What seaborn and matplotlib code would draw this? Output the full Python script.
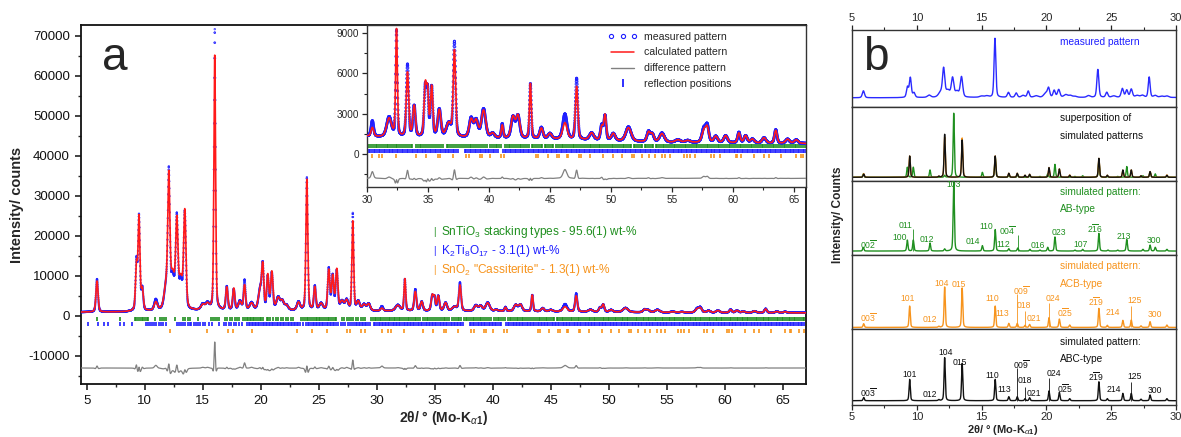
import numpy as np
import matplotlib
matplotlib.use("Agg")
import matplotlib.pyplot as plt
from matplotlib.lines import Line2D
from matplotlib.legend_handler import HandlerLine2D
from matplotlib.ticker import MultipleLocator
import seaborn as sns

# ---------------------------------------------------------------- data
# background of the powder pattern (2theta in degrees, counts)
BG_POS = [4.5, 8.0, 11.0, 15.0, 22.0, 30.0, 38.0, 46.0, 54.0, 60.0, 67.0]
BG_CNT = [950, 1000, 1200, 1350, 1350, 1250, 1200, 1100, 880, 830, 780]

# Rietveld refinement: peak positions, measured / calculated maxima (counts), FWHM
PEAK_POS = [5.88, 9.28, 9.50, 9.78, 10.95, 11.85, 12.07, 12.40, 12.76, 13.10,
            13.45, 15.00, 15.40, 16.03, 17.07, 17.67, 18.20, 18.60, 19.20, 19.95,
            20.17, 20.60, 20.95, 21.50, 21.85, 22.20, 23.25, 23.97, 24.66, 25.20,
            25.86, 26.20, 26.55, 27.00, 27.40, 27.93, 28.40, 28.90, 29.30,
            30.44, 31.81, 32.42, 33.32, 33.87, 34.78, 34.97, 35.30, 35.93, 36.70,
            37.17, 38.54, 38.95, 39.56, 40.30, 41.09, 41.97, 42.38, 43.40, 44.30,
            45.00, 46.23, 47.19, 48.42, 49.25, 49.52, 50.20, 51.44, 53.09, 53.40,
            54.19, 55.50, 56.30, 57.62, 57.90, 58.60, 59.41, 60.50, 61.05, 61.60,
            62.56, 63.52, 64.49, 65.20]
PEAK_MEAS = [9200, 13300, 24500, 6500, 3900, 7000, 33000, 9000, 23300, 8000,
             25200, 2800, 3000, 71500, 7200, 6500, 3600, 8800, 3200, 6500,
             11500, 9500, 10500, 4500, 3500, 2600, 3400, 34500, 7300, 3000,
             11700, 9800, 11000, 3500, 3800, 25500, 3500, 2800, 3000,
             2400, 2700, 9100, 6600, 3500, 4900, 4300, 4900, 3250, 2200,
             8250, 2600, 2450, 3300, 1500, 2200, 2700, 2800, 5200, 1950,
             1500, 2950, 5600, 1550, 2100, 2800, 1500, 2000, 1650, 1450,
             1550, 1050, 1000, 1850, 2050, 1300, 1350, 1600, 1350, 1100,
             1200, 1800, 1100, 1050]
PEAK_CALC = [8700, 12300, 24200, 6200, 3200, 6800, 31500, 9500, 22000, 8500,
             25400, 2600, 2800, 65000, 7000, 6700, 3400, 7500, 3000, 6300,
             11200, 9800, 10700, 4300, 3400, 2500, 3200, 34000, 7000, 2900,
             11200, 9600, 11300, 3400, 3600, 23500, 3400, 2700, 2900,
             1900, 2600, 9200, 6000, 3500, 5000, 4200, 4900, 3200, 2200,
             7600, 2500, 2400, 3200, 1500, 2100, 2700, 2800, 5200, 1900,
             1500, 2300, 5000, 1550, 2000, 2850, 1500, 1950, 1600, 1450,
             1500, 1050, 1000, 1700, 1900, 1300, 1350, 1550, 1350, 1100,
             1200, 1750, 1100, 1050]
PEAK_FWHM = [0.20, 0.18, 0.18, 0.20, 0.30, 0.40, 0.20, 0.40, 0.22, 0.35,
             0.22, 0.35, 0.35, 0.16, 0.20, 0.20, 0.30, 0.19, 0.35, 0.35,
             0.20, 0.20, 0.22, 0.35, 0.30, 0.35, 0.30, 0.18, 0.20, 0.35,
             0.21, 0.21, 0.21, 0.35, 0.30, 0.17, 0.30, 0.35, 0.30,
             0.24, 0.45, 0.16, 0.22, 0.24, 0.22, 0.18, 0.22, 0.30, 0.45,
             0.22, 0.35, 0.35, 0.40, 0.35, 0.18, 0.35, 0.35, 0.17, 0.30,
             0.35, 0.40, 0.22, 0.40, 0.24, 0.22, 0.35, 0.50, 0.30, 0.30,
             0.45, 0.45, 0.45, 0.35, 0.30, 0.35, 0.35, 0.24, 0.30, 0.35,
             0.35, 0.24, 0.35, 0.35]

# reflection positions of the three phases (2theta)
GREEN_REFL = [5.86, 7.85, 9.12, 9.27, 9.44, 9.58, 9.73, 9.88, 10.04, 10.19, 10.31, 10.92,
              11.31, 11.47, 11.63, 11.81, 12.61, 13.32, 13.49, 13.71, 13.88, 14.62, 15.69,
              15.88, 16.05, 16.24, 16.41, 16.90, 17.09, 17.31, 17.54, 17.76, 17.93, 18.11,
              18.49, 18.63, 18.77, 18.90, 19.03, 19.17, 19.31, 19.44, 19.60, 19.74, 19.91,
              20.04, 20.19, 20.51, 20.66, 20.83, 21.01, 21.28, 21.49, 21.71, 21.90, 22.16,
              22.38, 22.61, 22.80, 23.49, 23.66, 23.80, 23.96, 24.09, 24.26, 24.41, 24.55,
              24.72, 24.86, 25.01, 25.14, 25.31, 25.46, 25.59, 25.76, 25.90, 26.06, 26.19,
              26.36, 26.51, 27.02, 27.19, 27.41, 27.60, 27.79, 27.98, 28.20, 28.39, 28.61,
              28.80, 29.02, 29.48, 29.63, 29.81, 29.94, 30.11, 30.27, 30.40, 30.56, 30.71,
              30.84, 31.02, 31.16, 31.29, 31.47, 31.61, 31.74, 31.92, 32.04, 32.21, 32.36,
              32.49, 32.66, 32.80, 32.97, 33.09, 33.26, 33.41, 33.57, 33.70, 34.02, 34.16,
              34.31, 34.44, 34.62, 34.79, 34.93, 35.11, 35.24, 35.41, 35.58, 35.76, 35.89,
              36.06, 36.21, 36.52, 36.67, 36.79, 36.96, 37.11, 37.27, 37.49, 37.66, 37.79,
              37.96, 38.09, 38.26, 38.41, 38.54, 38.71, 38.86, 39.01, 39.19, 39.36, 39.49,
              39.66, 39.81, 40.12, 40.24, 40.41, 40.56, 40.69, 40.86, 41.02, 41.29, 41.46,
              41.61, 41.76, 41.89, 42.06, 42.19, 42.36, 42.51, 42.64, 42.81, 42.99, 43.16,
              43.31, 43.49, 43.64, 43.81, 43.94, 44.11, 44.26, 44.39, 44.56, 44.71, 44.84,
              45.01, 45.16, 45.29, 45.51, 45.66, 45.79, 45.96, 46.09, 46.26, 46.41, 46.54,
              46.71, 46.86, 46.99, 47.16, 47.31, 47.44, 47.61, 47.79, 47.96, 48.09, 48.26,
              48.39, 48.56, 48.71, 48.84, 49.01, 49.14, 49.31, 49.46, 49.59, 49.76, 49.89,
              50.06, 50.21, 50.34, 50.51, 50.66, 50.79, 50.96, 51.11, 51.24, 51.41, 51.56,
              51.69, 51.86, 52.01, 52.14, 52.31, 52.46, 52.59, 52.76, 52.91, 53.04, 53.21,
              53.36, 53.49, 53.66, 53.81, 53.94, 54.11, 54.26, 54.39, 54.56, 54.71, 54.84,
              55.01, 55.16, 55.29, 55.46, 55.61, 55.74, 55.91, 56.06, 56.19, 56.36, 56.51,
              56.64, 56.81, 56.96, 57.09, 57.26, 57.41, 57.54, 57.71, 57.86, 57.99, 58.16,
              58.31, 58.44, 58.61, 58.76, 58.89, 59.06, 59.21, 59.34, 59.51, 59.66, 59.79,
              59.96, 60.11, 60.24, 60.41, 60.56, 60.69, 60.86, 61.01, 61.14, 61.31, 61.46,
              61.59, 61.76, 61.91, 62.04, 62.21, 62.36, 62.49, 62.66, 62.81, 62.94, 63.11,
              63.26, 63.39, 63.56, 63.71, 63.84, 64.01, 64.16, 64.29, 64.46, 64.61, 64.74,
              64.91, 65.06, 65.19, 65.36, 65.51, 65.64, 65.81, 65.96, 66.09, 66.26, 66.41,
              66.54, 66.71, 66.86]
BLUE_REFL = [5.10, 5.95, 6.50, 6.80, 7.90, 8.20, 8.90, 10.10, 10.26, 10.42, 10.60, 10.77,
             11.00, 11.21, 11.40, 11.60, 11.80, 12.80, 12.96, 13.12, 13.30, 13.48, 13.69,
             13.86, 14.02, 14.20, 14.41, 14.60, 14.80, 15.00, 15.22, 15.50, 15.81, 16.42,
             16.80, 17.00, 17.22, 17.45, 17.70, 17.90, 18.12, 18.40, 18.81, 18.94, 19.08,
             19.20, 19.35, 19.47, 19.61, 19.74, 19.88, 20.01, 20.15, 20.28, 20.42, 20.55,
             20.69, 20.82, 20.96, 21.09, 21.23, 21.36, 21.50, 21.63, 21.77, 21.90, 22.04,
             22.17, 22.31, 22.44, 22.58, 22.71, 22.85, 22.98, 23.12, 23.25, 23.39, 23.60,
             23.92, 24.05, 24.19, 24.32, 24.46, 24.59, 24.73, 24.86, 25.00, 25.13, 25.27,
             25.40, 25.54, 25.67, 25.81, 25.94, 26.08, 26.21, 26.35, 26.48, 26.62, 26.90,
             27.10, 27.30, 27.52, 27.70, 27.88, 28.03, 28.17, 28.30, 28.44, 28.57, 28.71,
             28.84, 28.98, 29.11, 29.25, 29.38, 29.74, 29.88, 30.01, 30.15, 30.28, 30.42,
             30.55, 30.69, 30.82, 30.96, 31.09, 31.23, 31.36, 31.50, 31.63, 31.77, 31.90,
             32.04, 32.17, 32.31, 32.44, 32.58, 32.71, 32.85, 32.98, 33.12, 33.25, 33.39,
             33.52, 33.66, 33.79, 33.93, 34.06, 34.20, 34.33, 34.47, 34.60, 34.74, 34.87,
             35.01, 35.14, 35.28, 35.41, 35.55, 35.68, 35.82, 35.95, 36.09, 36.22, 36.36,
             36.49, 36.63, 36.76, 36.90, 37.03, 37.17, 37.30, 37.44, 38.02, 38.15, 38.29,
             38.42, 38.56, 38.69, 38.83, 38.96, 39.10, 39.23, 39.37, 39.50, 39.64, 39.77,
             39.91, 40.04, 40.18, 40.31, 40.45, 40.58, 40.72, 41.16, 41.29, 41.43, 41.56,
             41.70, 41.83, 41.97, 42.10, 42.24, 42.37, 42.51, 42.64, 42.78, 42.91, 43.05,
             43.18, 43.32, 43.45, 43.59, 43.72, 43.86, 43.99, 44.13, 44.26, 44.40, 44.53,
             44.67, 44.80, 44.94, 45.07, 45.21, 45.34, 45.48, 45.61, 45.75, 45.88, 46.02,
             46.15, 46.29, 46.42, 46.56, 46.69, 46.83, 46.96, 47.10, 47.23, 47.37, 47.50,
             47.64, 47.77, 47.91, 48.04, 48.18, 48.31, 48.45, 48.58, 48.72, 48.85, 48.99,
             49.12, 49.26, 49.39, 49.53, 49.66, 49.80, 49.93, 50.07, 50.20, 50.34, 50.47,
             50.61, 50.74, 50.88, 51.01, 51.15, 51.28, 51.42, 51.55, 51.69, 51.82, 51.96,
             52.09, 52.23, 52.36, 52.50, 52.63, 52.77, 52.90, 53.04, 53.17, 53.31, 53.44,
             53.58, 53.71, 53.85, 53.98, 54.12, 54.25, 54.39, 54.52, 54.66, 54.79, 54.93,
             55.06, 55.20, 55.33, 55.47, 55.60, 55.74, 55.87, 56.01, 56.14, 56.28, 56.41,
             56.55, 56.68, 56.82, 56.95, 57.09, 57.22, 57.36, 57.49, 57.63, 57.76, 57.90,
             58.03, 58.17, 58.30, 58.44, 58.57, 58.71, 58.84, 58.98, 59.11, 59.25, 59.38,
             59.52, 59.65, 59.79, 59.92, 60.06, 60.19, 60.33, 60.46, 60.60, 60.73, 60.87,
             61.00, 61.14, 61.27, 61.41, 61.54, 61.68, 61.81, 61.95, 62.08, 62.22, 62.35,
             62.49, 62.62, 62.76, 62.89, 63.03, 63.16, 63.30, 63.43, 63.57, 63.70, 63.84,
             63.97, 64.11, 64.24, 64.38, 64.51, 64.65, 64.78, 64.92, 65.05, 65.19, 65.32,
             65.46, 65.59, 65.73, 65.86, 66.00, 66.13, 66.27, 66.40, 66.54, 66.67, 66.81]
ORANGE_REFL = [12.20, 15.40, 17.20, 17.60, 19.20, 23.10, 24.40, 25.70, 27.40, 27.70,
               28.60, 29.00, 30.44, 30.99, 31.26, 32.36, 34.01, 34.83, 35.79, 35.99,
               37.03, 38.13, 38.35, 39.23, 39.42, 40.05, 40.96, 41.20, 43.89, 44.03,
               44.85, 45.60, 45.76, 46.36, 46.50, 47.41, 47.52, 48.29, 49.38, 50.15,
               50.89, 51.72, 51.91, 52.54, 53.09, 53.59, 54.19, 54.46, 54.82, 55.97,
               56.25, 56.52, 56.93, 58.17, 58.45, 58.94, 60.23, 60.37, 60.64, 61.74,
               62.56, 62.98, 63.94, 65.17, 65.58, 65.72, 66.40, 66.80]

PHASES = ["SnTiO$_3$ stacking types - 95.6(1) wt-%",
          "K$_2$Ti$_8$O$_{17}$ - 3.1(1) wt-%",
          "SnO$_2$ \"Cassiterite\" - 1.3(1) wt-%"]

# simulated stacking variants (relative intensities, ABC 104 = 100)
SIM_POS = [5.90, 9.45, 11.70, 12.15, 13.50, 16.05, 17.10, 17.75, 18.35, 18.70,
           20.20, 21.00, 21.80, 24.05, 24.70, 25.90, 26.55, 27.30, 28.00, 29.30]
ABC_INT = [7.7, 49.5, 2.3, 100.0, 86.7, 49.5, 9.3, 9.3, 4.7, 7.0,
           22.6, 19.3, 4.7, 44.0, 4.7, 17.0, 17.0, 3.5, 13.3, 4.7]
ACB_INT = [8.6, 49.5, 2.3, 93.7, 91.4, 49.5, 9.3, 9.3, 4.7, 7.0,
           22.6, 19.3, 5.5, 44.0, 4.7, 16.3, 17.0, 3.5, 13.3, 5.5]
AB_POS = [5.87, 9.27, 9.73, 11.02, 12.15, 12.85, 15.06, 16.05, 17.10, 17.79, 18.73, 19.50,
          20.10, 20.66, 22.20, 22.80, 24.05, 24.75, 25.50, 26.20, 27.45, 28.00, 28.40, 29.30]
AB_INT = [7.9, 23.4, 23.4, 17.0, 4.3, 149.0, 11.5, 46.0, 4.9, 6.4, 3.6, 2.1,
          7.9, 30.0, 2.1, 3.6, 37.7, 2.1, 2.1, 25.0, 3.6, 12.8, 7.9, 3.6]

# hkl labels: (text, 2theta, height)
AB_LABELS = [(r"00$\overline{2}$", 6.26, 14.9), ("100", 8.70, 28.3), ("011", 9.10, 55.3),
             ("012", 10.80, 25.5), ("103", 12.80, 142.6), ("014", 14.33, 19.8),
             ("110", 15.36, 53.2), (r"00$\overline{4}$", 17.00, 44.7), ("112", 16.70, 14.9),
             ("016", 19.30, 12.8), ("023", 20.98, 38.9), ("107", 22.60, 13.4),
             (r"2$\overline{1}$6", 23.76, 48.9), ("213", 26.00, 31.9), ("300", 28.30, 23.4)]
ACB_LABELS = [(r"00$\overline{3}$", 6.26, 21.9), ("101", 9.27, 66.0), ("012", 11.02, 17.9),
              ("104", 11.92, 101.6), ("015", 13.28, 99.3), ("110", 15.85, 66.0),
              ("113", 16.62, 31.2), (r"00$\overline{9}$", 18.09, 86.0), ("018", 18.22, 50.5),
              ("021", 19.07, 20.2), ("024", 20.54, 66.7), (r"0$\overline{2}$5", 21.44, 33.5),
              (r"2$\overline{1}$9", 23.83, 60.5), ("214", 25.12, 33.5), ("125", 26.84, 62.8),
              ("300", 28.38, 29.5)]
ABC_LABELS = [(r"00$\overline{3}$", 6.26, 18.6), ("101", 9.42, 59.8), ("012", 11.02, 13.3),
              ("104", 12.23, 111.6), ("015", 13.33, 88.4), ("110", 15.85, 58.1),
              ("113", 16.73, 27.2), (r"00$\overline{9}$", 18.09, 83.0), ("018", 18.30, 46.5),
              ("021", 19.07, 17.2), ("024", 20.59, 63.7), (r"0$\overline{2}$5", 21.44, 28.8),
              (r"2$\overline{1}$9", 23.83, 55.8), ("214", 25.17, 27.2), ("125", 26.84, 55.8),
              ("300", 28.38, 23.3)]
# label leader lines: (2theta, top height)
AB_LEADERS = [(9.73, 48.0), (17.79, 34.0)]
ACB_LEADERS = [(17.75, 78.0), (18.35, 37.0), (20.20, 57.0), (26.55, 49.0)]
ABC_LEADERS = [(17.75, 75.0), (18.35, 33.0), (20.20, 53.0), (26.55, 44.0)]

# ---------------------------------------------------------------- style
sns.set_theme(style="ticks")
plt.rcParams["font.family"] = ["Liberation Sans", "DejaVu Sans"]
plt.rcParams["mathtext.fontset"] = "custom"
plt.rcParams["mathtext.rm"] = "Liberation Sans"
plt.rcParams["mathtext.it"] = "Liberation Sans:italic"
plt.rcParams["mathtext.bf"] = "Liberation Sans:bold"
plt.rcParams["axes.unicode_minus"] = False

BLUE = "#1f1fff"
RED = "#ff1a1a"
GRAY = "#808080"
GREEN = "#1f8f1f"
ORANGE = "#f7941d"
BLACK = "#111111"


def pseudo_voigt(x, pos, amp, fwhm, eta=0.35):
    pos = np.asarray(pos, float)[None, :]
    amp = np.asarray(amp, float)[None, :]
    w = np.broadcast_to(np.asarray(fwhm, float), pos.shape)
    d = (x[:, None] - pos) / w
    shape = eta / (1 + 4 * d ** 2) + (1 - eta) * np.exp(-4 * np.log(2) * d ** 2)
    return (amp * shape).sum(axis=1)


# ---------------------------------------------------------------- patterns
x = np.arange(4.5, 67.0001, 0.01)
bg = np.interp(x, BG_POS, BG_CNT)
bg_at = np.interp(PEAK_POS, BG_POS, BG_CNT)
meas = bg + pseudo_voigt(x, PEAK_POS, np.array(PEAK_MEAS) - bg_at, PEAK_FWHM)
calc = bg + pseudo_voigt(x, PEAK_POS, np.array(PEAK_CALC) - bg_at,
                         np.array(PEAK_FWHM) * 1.06)
diff = meas - calc

W, H = 1181, 437
fig = plt.figure(figsize=(W / 100, H / 100), dpi=100)


def frac(left, top, right, bottom):
    return [left / W, 1 - bottom / H, (right - left) / W, (bottom - top) / H]


def draw_ticks(ax, ys, size, lw):
    for refl, col, yv in zip((GREEN_REFL, BLUE_REFL, ORANGE_REFL), (GREEN, BLUE, ORANGE), ys):
        sns.scatterplot(x=refl, y=np.full(len(refl), yv), ax=ax, marker="|", s=size,
                        color=col, edgecolor=col, linewidth=lw, zorder=2)


def draw_refinement(ax, sel, dot_size, dot_lw, diff_offset, tick_ys, tick_size):
    draw_ticks(ax, tick_ys, tick_size, 1.2)
    sns.scatterplot(x=x[sel], y=meas[sel], ax=ax, marker="o", s=dot_size,
                    color=BLUE, edgecolor=BLUE, facecolor="none", linewidth=dot_lw, zorder=3)
    sns.lineplot(x=x[sel], y=calc[sel], ax=ax, color=RED, linewidth=1.2,
                 sort=False, estimator=None, errorbar=None, zorder=4)
    sns.lineplot(x=x[sel], y=diff[sel] + diff_offset, ax=ax, color=GRAY, linewidth=0.9,
                 sort=False, estimator=None, errorbar=None, zorder=4)


# ---- panel a
ax = fig.add_axes(frac(81, 25, 806, 384))
draw_refinement(ax, np.ones_like(x, bool), 1.3, 0.45, -13000, (-700, -2100, -3800), 9)
ax.set_xlim(4.5, 67)
ax.set_ylim(-17000, 72700)
ax.xaxis.set_major_locator(MultipleLocator(5))
ax.xaxis.set_minor_locator(MultipleLocator(2.5))
ax.yaxis.set_major_locator(MultipleLocator(10000))
ax.yaxis.set_minor_locator(MultipleLocator(5000))
ax.tick_params(which="major", direction="out", length=4.5, width=1.1, labelsize=9.5,
               top=False, right=False, colors=BLACK)
ax.tick_params(which="minor", direction="out", length=2.5, width=1.0, top=False, right=False)
for s in ax.spines.values():
    s.set_linewidth(1.3)
    s.set_color(BLACK)
ax.set_xlabel("")
ax.set_ylabel("")
ax.text(0.029, 0.875, "a", transform=ax.transAxes, fontsize=33, va="baseline", ha="left")
for i, (txt, col) in enumerate(zip(PHASES, (GREEN, BLUE, ORANGE))):
    yy = 0.423 - i * 0.053
    ax.text(0.486, yy, "|", transform=ax.transAxes, color=col, fontsize=7, va="center")
    ax.text(0.497, yy, txt, transform=ax.transAxes, color=col, fontsize=8.6, va="center")

fig.text(17 / W, 1 - 205 / H, "Intensity/ counts", rotation=90, ha="center", va="center",
         fontsize=10.5, fontweight="bold")
fig.text(443 / W, 1 - 418 / H, r"2θ/ ° (Mo-K$_{\alpha\mathbf{1}}$)", ha="center",
         va="center", fontsize=10, fontweight="bold")

# ---- inset
axi = fig.add_axes(frac(367, 25, 806, 187))
axi.set_facecolor("white")
sel = (x >= 29.9) & (x <= 66.1)
draw_refinement(axi, sel, 2.5, 0.55, -1800, (620, 260, -150), 6)
axi.set_xlim(30, 66)
axi.set_ylim(-2450, 9600)
axi.xaxis.set_major_locator(MultipleLocator(5))
axi.xaxis.set_minor_locator(MultipleLocator(2.5))
axi.yaxis.set_major_locator(MultipleLocator(3000))
axi.yaxis.set_minor_locator(MultipleLocator(1500))
axi.tick_params(which="major", direction="out", length=3.5, width=0.9, labelsize=7.2,
                top=False, right=False, pad=2)
axi.tick_params(which="minor", direction="out", length=2, width=0.8, top=False, right=False)
for s in axi.spines.values():
    s.set_linewidth(1.0)
    s.set_color("#333333")
axi.set_xlabel("")
axi.set_ylabel("")
handles = [Line2D([], [], ls="none", marker="o", ms=3, mfc="none", mec=BLUE, mew=0.8),
           Line2D([], [], color=RED, lw=1.1),
           Line2D([], [], color=GRAY, lw=1.0),
           Line2D([], [], ls="none", marker="|", ms=6, mec=BLUE, mew=1.3)]
axi.legend(handles, ["measured pattern", "calculated pattern", "difference pattern",
                     "reflection positions"],
           loc="upper left", bbox_to_anchor=(0.54, 0.985), frameon=False, fontsize=7.6,
           numpoints=3, handlelength=2.7, handletextpad=0.7, labelspacing=0.55,
           borderaxespad=0.0, handler_map={handles[3]: HandlerLine2D(numpoints=1)})

# ---- panel b
bounds = [30, 107, 181, 255, 329, 405]
axes_b = [fig.add_axes(frac(852, bounds[i], 1176, bounds[i + 1])) for i in range(5)]
xb = np.arange(5.0, 30.0001, 0.005)
bgb = np.interp(xb, BG_POS, BG_CNT)
meas_b = bgb + pseudo_voigt(xb, PEAK_POS, np.array(PEAK_MEAS) - bg_at, PEAK_FWHM)
sim_w = 0.11
abc = pseudo_voigt(xb, SIM_POS, ABC_INT, sim_w, 0.4)
acb = pseudo_voigt(xb, SIM_POS, ACB_INT, sim_w, 0.4)
ab = pseudo_voigt(xb, AB_POS, AB_INT, sim_w, 0.4)


def line(axb, y, col, lw=1.0):
    sns.lineplot(x=xb, y=y, ax=axb, color=col, linewidth=lw, sort=False,
                 estimator=None, errorbar=None)


b0, b1, b2, b3, b4 = axes_b
line(b0, meas_b, "#2a2aff", 1.0)
b0.set_ylim(-10000, 81500)
line(b1, ab, GREEN, 1.0)
line(b1, acb, ORANGE, 1.0)
line(b1, abc, BLACK, 1.0)
b1.set_ylim(-8.6, 163.5)
line(b2, ab, GREEN, 1.0)
b2.set_ylim(-8.5, 150.0)
line(b3, acb, ORANGE, 1.0)
b3.set_ylim(-3.7, 168.0)
line(b4, abc, BLACK, 1.0)
b4.set_ylim(-10.0, 166.7)

for axb, labels, leaders, col in ((b2, AB_LABELS, AB_LEADERS, GREEN),
                                  (b3, ACB_LABELS, ACB_LEADERS, ORANGE),
                                  (b4, ABC_LABELS, ABC_LEADERS, BLACK)):
    for pos, top in leaders:
        axb.vlines(pos, 0, top, color=col, linewidth=0.6)
    for txt, px, py in labels:
        axb.text(px, py, txt, color=col, fontsize=6.2, ha="center", va="center")

b0.text(21.05, 0.84, "measured pattern", transform=b0.get_xaxis_transform(),
        color=BLUE, fontsize=7.3, va="center")
b1.text(21.05, 0.85, "superposition of", transform=b1.get_xaxis_transform(),
        color=BLACK, fontsize=7.3, va="center")
b1.text(21.05, 0.61, "simulated patterns", transform=b1.get_xaxis_transform(),
        color=BLACK, fontsize=7.3, va="center")
for axb, name, col, y1, y2 in ((b2, "AB-type", GREEN, 0.855, 0.618),
                               (b3, "ACB-type", ORANGE, 0.851, 0.608),
                               (b4, "ABC-type", BLACK, 0.833, 0.605)):
    axb.text(21.05, y1, "simulated pattern:", transform=axb.get_xaxis_transform(),
             color=col, fontsize=7.3, va="center")
    axb.text(21.05, y2, name, transform=axb.get_xaxis_transform(),
             color=col, fontsize=7.3, va="center")
b0.text(5.85, 0.48, "b", transform=b0.get_xaxis_transform(), fontsize=33,
        va="baseline", ha="left")

for i, axb in enumerate(axes_b):
    axb.set_xlim(5, 30)
    axb.set_yticks([])
    axb.set_xlabel("")
    axb.set_ylabel("")
    axb.xaxis.set_major_locator(MultipleLocator(5))
    axb.xaxis.set_minor_locator(MultipleLocator(2.5))
    for s in axb.spines.values():
        s.set_linewidth(1.0)
        s.set_color("#333333")
    axb.tick_params(which="both", left=False, right=False, top=(i == 0), bottom=(i == 4),
                    labeltop=(i == 0), labelbottom=(i == 4), direction="out",
                    labelsize=8.0, pad=1.5)
    axb.tick_params(which="major", length=3.5, width=0.9)
    axb.tick_params(which="minor", length=2, width=0.8)

fig.text(838 / W, 1 - 215 / H, "Intensity/ Counts", rotation=90, ha="center", va="center",
         fontsize=8.6, fontweight="bold")
fig.text(1003 / W, 1 - 430 / H, r"2θ/ ° (Mo-K$_{\alpha\mathbf{1}}$)", ha="center",
         va="center", fontsize=8.0, fontweight="bold")

fig.savefig("out.png", dpi=100)
